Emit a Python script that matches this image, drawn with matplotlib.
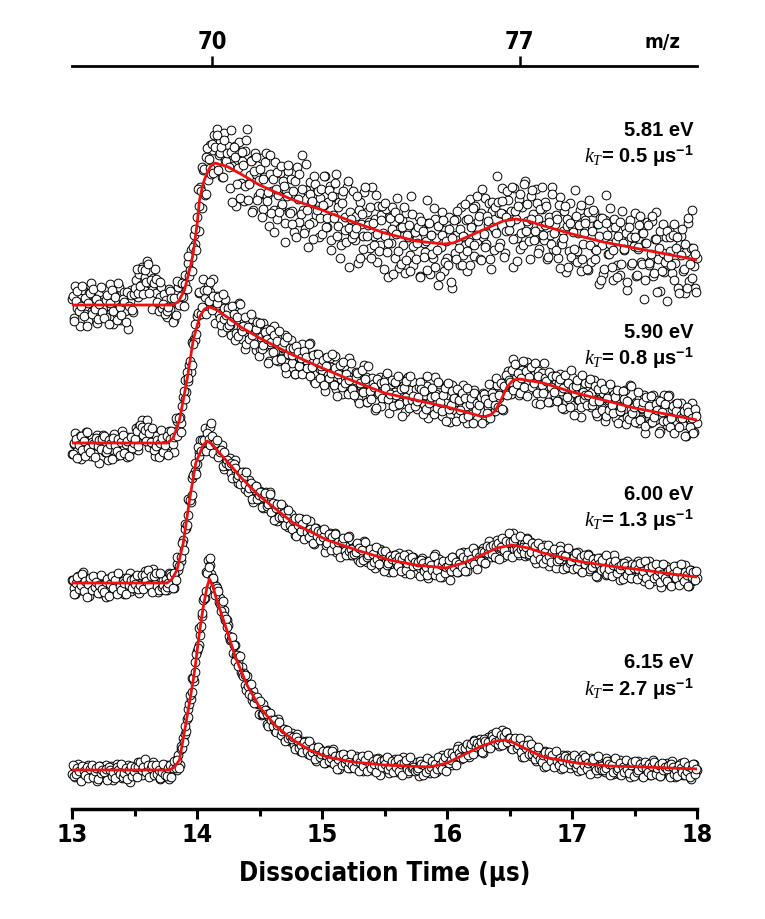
import numpy as np
import matplotlib.pyplot as plt
from matplotlib import font_manager
from matplotlib.font_manager import FontProperties

plt.rcParams['font.family'] = ['Liberation Sans', 'DejaVu Sans']
plt.rcParams['mathtext.fontset'] = 'custom'
plt.rcParams['mathtext.it'] = 'Liberation Serif:italic'
plt.rcParams['mathtext.rm'] = 'Liberation Sans'
plt.rcParams['mathtext.bf'] = 'Liberation Sans:bold'


def condensed_bold():
    # axis text in the original is a narrow bold sans
    for f in font_manager.fontManager.ttflist:
        n = f.name.lower()
        w = f.weight
        bold = (isinstance(w, int) and w >= 600) or w in ('bold', 'demibold', 'semibold', 'heavy')
        narrow = 'narrow' in n or 'condensed' in n or f.stretch in ('condensed', 'semi-condensed')
        if narrow and bold and f.style == 'normal':
            return f.fname
    return None


cond = condensed_bold()


def axis_font(size):
    if cond:
        return FontProperties(fname=cond, size=size)
    return FontProperties(family='Liberation Sans', weight='bold', size=size * 0.86)


# sampled dissociation time (us): two interleaved read-outs, 12.5 ns apart each
t = np.linspace(13, 18, 401)
t_mid = np.linspace(13.00625, 17.99375, 400)

energies = ['5.81 eV', '5.90 eV', '6.00 eV', '6.15 eV']
rates = ['0.5', '0.8', '1.3', '2.7']
offsets = [504, 366, 226, 39]

mz_pos = [14.12, 16.58]
mz_labels = ['70', '77']

# measured signal (arb. units, baseline = 0)
sig_581 = [
    6, -13, 19, -3, 10, -21, 2, 15, -9, 4, -16, 12, 22, -6, -1, 9, -18, 13, 3, -10,
    -4, 16, -12, 7, 21, -2, -19, 10, 3, -9, 18, -15, 0, 13, -6, 9, -24, 4, 15, -7,
    14, 25, 8, 31, 20, 38, 17, 28, 44, 22, 33, 15, 27, 36, 12, 24, 8, 18, -3, 11,
    5, -12, 16, -4, 9, -15, 12, 3, 18, 0, 22, 8, 30, 16, 42, 29, 55, 48, 70, 61,
    88, 74, 118, 97, 135, 110, 148, 125, 160, 131, 155, 170, 138, 176, 150, 163, 128, 172, 145, 158,
    159, 117, 175, 139, 159, 99, 145, 163, 122, 144, 104, 154, 176, 122, 130, 145, 95, 152, 131, 109,
    112, 147, 96, 128, 152, 109, 79, 131, 114, 95, 143, 86, 110, 132, 98, 124, 63, 115, 134, 93,
    126, 94, 73, 111, 138, 83, 112, 150, 95, 76, 115, 58, 123, 102, 83, 129, 90, 115, 68, 107,
    71, 100, 129, 78, 103, 119, 55, 90, 108, 131, 79, 103, 60, 110, 69, 88, 118, 38, 93, 81,
    114, 65, 89, 42, 103, 81, 69, 113, 51, 93, 83, 57, 118, 69, 86, 43, 99, 60, 90, 72,
    69, 96, 28, 88, 62, 98, 83, 47, 107, 37, 77, 85, 60, 32, 92, 68, 50, 109, 40, 72,
    46, 67, 88, 29, 78, 62, 53, 105, 82, 31, 70, 47, 86, 67, 20, 79, 58, 93, 34, 75,
    47, 88, 69, 17, 78, 52, 86, 65, 40, 98, 50, 68, 85, 34, 63, 106, 81, 49, 99, 64,
    84, 46, 92, 68, 107, 61, 80, 102, 36, 94, 55, 74, 129, 92, 62, 117, 91, 52, 74, 105,
    83, 94, 38, 117, 86, 67, 106, 56, 98, 73, 124, 101, 81, 46, 109, 91, 66, 116, 86, 56,
    79, 96, 65, 103, 46, 88, 70, 118, 56, 81, 90, 47, 108, 63, 74, 94, 33, 79, 54, 102,
    79, 46, 115, 54, 72, 95, 34, 61, 85, 77, 35, 105, 43, 79, 93, 56, 81, 21, 87, 60,
    31, 85, 110, 51, 61, 78, 25, 86, 64, 40, 74, 30, 94, 55, 78, 15, 64, 85, 40, 67,
    92, 29, 56, 80, 43, 72, 6, 62, 83, 40, 44, 84, 29, 66, 93, 46, 14, 69, 52, 33,
    68, 4, 75, 54, 32, 81, 42, 68, 17, 61, 69, 34, 12, 53, 82, 24, 57, 95, 39, 17,
    47]
sig_581_mid = [
    9, -16, 4, 14, -6, -1, 19, -11, 7, -21, 2, 12, -9, 16, -4, 6, -14, 1, 18, -7,
    -13, 5, 10, -19, 2, 15, -6, 8, -15, 22, -2, -10, 6, 3, -17, 13, -1, 10, -5, 11,
    17, 36, 12, 19, 36, 11, 35, 23, 41, 12, 25, -4, 22, 26, 3, -6, 23, -3, 1, -9,
    -6, -2, 14, 7, -17, 7, -10, 24, 0, 9, 22, -1, 21, 16, 49, 35, 34, 58, 76, 55,
    116, 99, 114, 138, 136, 111, 157, 146, 137, 161, 132, 158, 170, 135, 152, 158, 128, 165, 144, 152,
    138, 153, 103, 158, 148, 121, 137, 107, 153, 140, 119, 165, 105, 121, 144, 93, 134, 148, 105, 125,
    136, 88, 126, 143, 104, 113, 150, 92, 126, 73, 116, 133, 93, 139, 101, 119, 82, 109, 140, 92,
    81, 114, 124, 68, 106, 131, 91, 116, 72, 141, 95, 81, 111, 104, 66, 121, 95, 114, 87, 116,
    100, 129, 78, 87, 115, 65, 109, 87, 122, 69, 98, 47, 102, 114, 75, 63, 124, 77, 86, 67,
    71, 77, 109, 95, 47, 91, 56, 118, 69, 80, 98, 47, 82, 60, 110, 71, 54, 85, 99, 36,
    102, 53, 62, 87, 76, 31, 93, 71, 54, 87, 41, 78, 98, 45, 70, 80, 34, 91, 59, 73,
    62, 78, 28, 84, 74, 48, 64, 35, 82, 70, 51, 97, 38, 55, 79, 29, 70, 85, 43, 64,
    40, 76, 23, 67, 85, 46, 94, 57, 76, 40, 69, 101, 54, 86, 40, 78, 97, 60, 70, 109,
    89, 45, 116, 71, 58, 89, 84, 46, 103, 78, 98, 72, 103, 58, 92, 104, 48, 88, 114, 75,
    83, 118, 66, 94, 44, 99, 111, 72, 60, 121, 74, 84, 64, 86, 115, 65, 74, 102, 52, 96,
    118, 70, 80, 99, 48, 83, 61, 111, 72, 55, 86, 100, 37, 61, 67, 99, 86, 38, 82, 48,
    73, 56, 89, 43, 80, 100, 46, 72, 82, 36, 93, 60, 74, 95, 46, 55, 81, 69, 25, 87,
    36, 82, 70, 51, 97, 38, 55, 78, 28, 69, 83, 41, 62, 56, 72, 23, 78, 68, 42, 59,
    68, 30, 58, 89, 41, 72, 25, 62, 80, 42, 51, 89, 32, 66, 13, 57, 74, 34, 81, 43,
    74, 48, 68, 40, 70, 25, 57, 68, 12, 50, 76, 36, 61, 17, 87, 41, 27, 57, 51, 13]

sig_590 = [
    -11, -1, 10, -8, 1, 7, -16, -4, 4, 11, -7, 2, -13, 5, -10, -2, 8, -20, 0, -4,
    8, -9, -1, -17, 5, -2, -7, 9, -13, 2, -1, -10, 12, -5, 1, -14, 6, -8, 3, -4,
    4, 15, -7, 17, 9, 23, 17, 3, 23, -4, 9, 10, -1, -13, 7, -2, -8, 13, -11, 0,
    5, -10, 12, 1, 10, -9, 11, 22, 13, 26, 20, 46, 63, 51, 62, 78, 71, 101, 104, 103,
    127, 150, 131, 150, 164, 146, 132, 157, 151, 141, 164, 136, 137, 147, 129, 141, 111, 135, 144, 124,
    135, 118, 108, 125, 137, 110, 124, 140, 115, 104, 122, 94, 124, 114, 104, 124, 106, 117, 93, 112,
    94, 106, 120, 96, 107, 114, 82, 99, 108, 117, 92, 103, 82, 105, 85, 95, 108, 70, 95, 88,
    103, 80, 90, 69, 96, 86, 79, 99, 70, 89, 83, 70, 100, 76, 84, 62, 89, 70, 83, 74,
    73, 85, 52, 80, 68, 85, 76, 59, 87, 54, 72, 75, 64, 49, 77, 66, 56, 85, 51, 66,
    53, 63, 71, 44, 66, 57, 52, 78, 66, 41, 59, 47, 65, 51, 33, 61, 49, 66, 37, 56,
    47, 66, 55, 30, 59, 45, 61, 51, 38, 65, 41, 50, 57, 31, 46, 66, 53, 37, 61, 42,
    54, 34, 56, 44, 61, 39, 48, 57, 25, 52, 33, 42, 66, 49, 33, 59, 46, 27, 36, 51,
    42, 48, 21, 58, 43, 33, 51, 27, 46, 35, 58, 48, 37, 20, 50, 42, 29, 53, 37, 24,
    38, 47, 32, 50, 23, 44, 36, 59, 30, 43, 50, 32, 58, 45, 48, 60, 33, 57, 50, 72,
    62, 49, 84, 56, 65, 77, 48, 62, 73, 68, 49, 81, 52, 68, 76, 57, 69, 40, 72, 58,
    46, 70, 80, 54, 57, 65, 41, 68, 58, 47, 61, 42, 69, 52, 62, 34, 54, 64, 44, 55,
    66, 38, 50, 59, 43, 56, 26, 51, 60, 41, 43, 60, 36, 51, 63, 43, 27, 52, 44, 35,
    50, 22, 53, 43, 34, 55, 37, 49, 25, 45, 48, 32, 23, 40, 53, 26, 41, 58, 33, 23,
    30, 41, 20, 44, 24, 34, 48, 10, 36, 30, 20, 33, 48, 23, 35, 43, 12, 28, 38, 48,
    31, 18, 48, 25, 34, 12, 39, 21, 34, 25, 40, 18, 28, 7, 35, 25, 19, 40, 11, 30,
    20]
sig_590_mid = [
    -11, 0, 4, -15, -2, 7, -7, 2, -13, 11, -5, -9, 1, -1, -14, 5, -3, 3, -6, 4,
    7, -9, -6, 3, -1, -16, 5, -2, -8, 4, -12, 1, 8, -10, -1, 2, -13, 6, -5, 0,
    4, 12, -3, 18, 16, 8, 13, 2, 16, 10, 1, 15, -7, -3, 3, -14, 0, 5, -9, -2,
    7, -12, 4, 12, -1, 6, 25, 7, 25, 11, 37, 52, 44, 71, 65, 82, 78, 99, 119, 109,
    130, 151, 129, 136, 153, 129, 153, 142, 161, 133, 147, 120, 140, 146, 125, 118, 149, 124, 128, 116,
    118, 122, 137, 129, 103, 126, 107, 139, 112, 117, 126, 99, 116, 104, 129, 108, 99, 114, 121, 87,
    120, 94, 98, 111, 104, 80, 113, 101, 91, 108, 83, 102, 112, 84, 96, 101, 76, 106, 89, 95,
    88, 95, 69, 97, 91, 77, 85, 69, 92, 86, 75, 99, 67, 76, 88, 60, 81, 89, 65, 77,
    83, 58, 77, 86, 65, 70, 89, 58, 75, 47, 69, 78, 56, 81, 60, 69, 49, 63, 80, 54,
    48, 66, 70, 40, 60, 73, 51, 64, 41, 77, 52, 44, 59, 56, 35, 64, 50, 60, 45, 61,
    55, 70, 44, 49, 63, 37, 61, 48, 67, 39, 54, 27, 55, 62, 42, 35, 67, 43, 47, 37,
    42, 46, 61, 54, 29, 52, 34, 67, 40, 46, 55, 29, 47, 35, 61, 41, 32, 48, 55, 22,
    60, 34, 38, 52, 45, 22, 54, 43, 33, 50, 25, 45, 55, 27, 39, 45, 20, 50, 33, 40,
    38, 46, 20, 49, 44, 30, 40, 25, 50, 46, 38, 65, 36, 48, 60, 34, 57, 68, 48, 63,
    61, 73, 53, 79, 59, 70, 50, 65, 82, 56, 72, 47, 66, 76, 56, 60, 80, 50, 67, 39,
    58, 50, 65, 62, 41, 71, 56, 67, 51, 67, 42, 60, 64, 35, 55, 68, 46, 60, 36, 73,
    56, 28, 57, 63, 43, 36, 68, 44, 48, 38, 48, 64, 38, 42, 57, 30, 54, 42, 60, 33,
    54, 27, 45, 33, 59, 38, 30, 46, 53, 20, 32, 36, 52, 44, 19, 42, 24, 57, 30, 36,
    21, 40, 51, 23, 35, 41, 17, 46, 30, 37, 47, 21, 26, 39, 33, 10, 42, 31, 22, 39,
    22, 47, 16, 25, 37, 10, 32, 40, 16, 28, 25, 32, 7, 36, 31, 16, 25, 10, 34, 27]

sig_600 = [
    3, -5, -11, 0, 7, -7, 1, 11, -3, -9, 2, -13, 4, -1, -6, 6, -4, 3, -10, 1,
    -3, 4, -14, 3, -4, 6, 2, -8, 8, -10, 1, 3, -3, -11, 5, -1, -6, 10, -8, 0,
    6, -7, 1, -10, 7, 2, 0, 12, -3, 8, 5, -2, 14, 0, 4, -9, 6, -6, 3, -2,
    4, -7, 10, 1, 9, -5, 10, 19, 13, 25, 22, 43, 59, 55, 68, 83, 81, 105, 109, 112,
    119, 131, 143, 133, 143, 155, 133, 144, 156, 160, 137, 143, 129, 141, 128, 131, 138, 114, 126, 121,
    117, 125, 110, 117, 123, 110, 100, 111, 106, 100, 111, 94, 99, 103, 93, 98, 81, 93, 97, 84,
    92, 83, 75, 85, 91, 75, 82, 91, 76, 69, 79, 62, 78, 72, 65, 76, 65, 70, 56, 66,
    69, 55, 61, 48, 63, 56, 53, 64, 47, 57, 53, 46, 62, 48, 52, 39, 55, 43, 51, 46,
    44, 50, 31, 48, 40, 50, 45, 35, 50, 31, 42, 43, 37, 28, 43, 37, 31, 47, 28, 35,
    28, 34, 38, 23, 35, 31, 27, 42, 34, 21, 30, 24, 34, 28, 15, 31, 24, 34, 17, 28,
    20, 30, 25, 11, 26, 19, 28, 21, 14, 30, 16, 20, 24, 10, 19, 29, 22, 12, 26, 16,
    21, 10, 22, 15, 25, 13, 18, 22, 5, 20, 9, 15, 29, 18, 10, 24, 17, 6, 12, 20,
    14, 18, 3, 26, 17, 13, 24, 11, 23, 17, 31, 26, 22, 12, 30, 26, 20, 34, 26, 20,
    26, 32, 24, 35, 20, 33, 28, 42, 26, 33, 37, 26, 43, 32, 35, 42, 26, 39, 32, 45,
    40, 32, 50, 34, 38, 44, 28, 35, 41, 39, 27, 45, 28, 38, 41, 31, 37, 20, 37, 30,
    34, 23, 38, 28, 33, 17, 29, 34, 23, 28, 18, 31, 37, 22, 24, 28, 15, 29, 24, 18,
    20, 30, 16, 24, 31, 20, 12, 24, 20, 16, 29, 12, 19, 25, 16, 22, 6, 20, 25, 13,
    22, 14, 8, 18, 25, 11, 19, 28, 14, 8, 19, 3, 20, 15, 10, 22, 11, 18, 5, 16,
    7, 14, 22, 8, 15, 19, 2, 11, 16, 22, 8, 14, 2, 16, 5, 9, 18, -4, 11, 8,
    17, 4, 11, -2, 14, 8, 5, 17, 0, 11, 8, 2, 18, 5, 9, -3, 13, 2, 11, 6,
    5]
sig_600_mid = [
    3, -11, 0, 6, -6, -2, 9, -8, 2, -14, -1, 5, -7, 7, -4, 1, -10, -2, 8, -6,
    -9, 1, 4, -13, -1, 7, -5, 3, -11, 10, -3, -7, 2, 0, -11, 5, -2, 3, -5, 4,
    -1, 8, -6, -2, 8, -6, 8, 2, 13, -2, 7, -9, 7, 10, -3, -7, 10, -4, -2, -7,
    -4, 0, 9, 7, -5, 10, 3, 26, 17, 26, 40, 33, 54, 58, 84, 83, 88, 108, 120, 109,
    136, 127, 132, 143, 143, 132, 150, 144, 138, 147, 130, 140, 143, 126, 131, 133, 117, 131, 120, 123,
    118, 120, 105, 119, 115, 105, 108, 99, 111, 105, 99, 111, 91, 95, 100, 84, 95, 97, 84, 88,
    91, 76, 86, 90, 77, 79, 89, 71, 80, 63, 75, 79, 66, 79, 66, 70, 58, 65, 73, 58,
    54, 63, 65, 47, 58, 65, 52, 59, 44, 64, 51, 46, 54, 51, 40, 55, 47, 52, 43, 51,
    46, 54, 38, 40, 49, 33, 46, 39, 49, 33, 41, 26, 41, 45, 32, 28, 46, 32, 34, 28,
    29, 31, 40, 35, 21, 33, 23, 41, 26, 28, 34, 18, 29, 21, 36, 24, 19, 28, 32, 12,
    32, 18, 20, 27, 24, 11, 28, 22, 17, 26, 12, 24, 28, 13, 20, 24, 9, 26, 17, 21,
    18, 21, 7, 23, 20, 12, 16, 8, 22, 18, 13, 27, 8, 13, 20, 6, 18, 22, 10, 16,
    17, 23, 12, 26, 16, 21, 11, 19, 30, 16, 26, 12, 24, 31, 19, 24, 35, 19, 30, 14,
    26, 22, 32, 31, 20, 37, 30, 36, 29, 38, 26, 37, 40, 24, 36, 45, 33, 42, 28, 50,
    41, 26, 42, 45, 33, 30, 47, 34, 36, 30, 36, 44, 29, 31, 40, 24, 37, 30, 40, 24,
    36, 20, 31, 24, 38, 27, 21, 31, 34, 15, 22, 24, 33, 28, 14, 27, 16, 35, 20, 22,
    14, 26, 30, 15, 22, 26, 11, 28, 19, 23, 28, 14, 16, 24, 20, 7, 25, 19, 13, 23,
    14, 28, 9, 14, 21, 7, 18, 22, 10, 16, 14, 18, 4, 20, 17, 8, 13, 5, 19, 15,
    18, 4, 14, 20, 8, 12, 22, 5, 15, -1, 11, 17, 5, 19, 7, 12, 1, 9, 19, 5,
    2, 12, 14, -3, 9, 17, 5, 12, -2, 19, 6, 2, 11, 8, -3, 13, 6, 11, 3, 12]

sig_615 = [
    -4, 4, -7, 0, 6, -3, -9, 2, -2, -6, 5, -7, -2, 3, -4, 1, -11, -1, 4, -5,
    -7, -1, 5, -5, 0, 4, -10, -2, 2, 6, -4, 1, -8, 3, -6, -2, 5, -12, 0, -3,
    2, -6, 8, 1, 7, -5, 4, 8, -1, 4, -5, 4, 8, -4, -2, 1, -9, 3, -1, -6,
    -1, 5, -9, 5, -1, 8, 6, 0, 15, 5, 21, 32, 36, 39, 61, 66, 71, 92, 89, 108,
    119, 125, 135, 154, 170, 172, 198, 210, 205, 196, 190, 182, 184, 176, 168, 172, 162, 160, 150, 150,
    145, 130, 131, 117, 125, 115, 109, 114, 98, 103, 97, 85, 94, 81, 81, 70, 79, 68, 72, 66,
    66, 55, 66, 56, 60, 46, 53, 55, 45, 48, 39, 47, 51, 39, 39, 41, 30, 40, 35, 29,
    30, 37, 25, 31, 36, 26, 19, 29, 24, 19, 29, 16, 20, 25, 17, 21, 9, 18, 22, 13,
    19, 12, 7, 14, 20, 8, 14, 21, 10, 6, 13, 1, 15, 10, 6, 15, 8, 12, 2, 10,
    3, 9, 14, 4, 9, 13, -1, 6, 10, 14, 4, 9, 0, 11, 1, 5, 12, -5, 7, 4,
    11, 1, 6, -3, 10, 4, 2, 11, -2, 7, 5, 0, 13, 3, 6, -3, 9, 1, 7, 3,
    2, 8, -6, 7, 1, 9, 6, -2, 11, -3, 6, 8, 4, -2, 11, 7, 3, 15, 2, 9,
    6, 12, 17, 5, 16, 14, 13, 24, 20, 11, 20, 16, 24, 19, 13, 26, 21, 30, 18, 28,
    21, 31, 27, 17, 30, 25, 33, 28, 24, 36, 26, 30, 35, 24, 30, 40, 34, 27, 38, 29,
    31, 22, 31, 25, 31, 22, 25, 28, 13, 25, 16, 19, 30, 21, 14, 24, 18, 9, 13, 18,
    13, 15, 3, 19, 12, 7, 16, 5, 13, 8, 18, 13, 9, 1, 15, 10, 5, 15, 9, 2,
    7, 11, 4, 12, -1, 8, 5, 15, 2, 7, 8, -1, 12, 3, 5, 10, -3, 5, 0, 10,
    5, -2, 12, 0, 4, 9, -4, 2, 6, 4, -4, 10, -3, 5, 8, 0, 6, -7, 7, 1,
    5, -4, 9, 1, 6, -6, 3, 6, -2, 3, -5, 5, 10, -1, 1, 4, -6, 6, 2, -3,
    -1, 7, -4, 3, 9, -1, -7, 4, 0, -4, 7, -5, 0, 5, -2, 3, -9, 1, 6, -3,
    0]
sig_615_mid = [
    5, -6, -4, 2, -1, -11, 4, -1, -5, 3, -8, 1, 5, -7, -1, 2, -9, 4, -3, 0,
    -2, 1, -10, 3, 0, -6, -2, -8, 3, 0, -4, 6, -7, -3, 2, -9, 0, 4, -6, -1,
    3, -7, 3, 8, 0, 3, 11, -2, 5, -7, 2, 5, -5, 5, -4, 0, -8, -2, 6, -5,
    -6, 2, 5, -7, 2, 9, 2, 10, 2, 24, 22, 28, 44, 51, 53, 75, 78, 92, 98, 116,
    122, 142, 144, 157, 172, 179, 197, 203, 212, 192, 192, 175, 182, 179, 166, 159, 169, 154, 151, 143,
    134, 131, 133, 125, 109, 115, 104, 114, 96, 94, 95, 80, 84, 76, 86, 74, 67, 72, 73, 56,
    69, 56, 56, 60, 56, 44, 57, 50, 44, 50, 38, 45, 48, 35, 39, 41, 29, 40, 32, 34,
    31, 33, 21, 33, 29, 22, 25, 18, 28, 24, 19, 29, 15, 18, 22, 11, 19, 23, 13, 16,
    19, 7, 15, 19, 9, 12, 19, 6, 14, 1, 11, 15, 5, 16, 7, 11, 2, 8, 16, 5,
    2, 9, 12, -1, 8, 14, 4, 10, -1, 15, 5, 2, 9, 6, -2, 11, 5, 9, 3, 10,
    6, 13, 1, 4, 9, -2, 8, 3, 11, -1, 6, -5, 7, 10, 1, -1, 13, 2, 3, -1,
    0, 2, 9, 6, -5, 5, -2, 12, 1, 3, 9, -3, 6, 1, 13, 5, 1, 9, 13, -1,
    17, 7, 10, 17, 14, 5, 21, 17, 13, 22, 12, 22, 26, 15, 22, 26, 16, 29, 23, 27,
    24, 28, 18, 31, 29, 23, 28, 22, 34, 31, 28, 38, 26, 30, 35, 25, 34, 38, 28, 32,
    32, 21, 29, 32, 22, 25, 32, 18, 25, 13, 22, 25, 16, 26, 16, 19, 11, 16, 23, 11,
    8, 15, 18, 4, 13, 18, 9, 15, 3, 19, 9, 5, 12, 10, 2, 14, 8, 12, 6, 12,
    8, 15, 3, 6, 11, 0, 10, 5, 13, 1, 7, -4, 8, 11, 2, 0, 14, 2, 4, 0,
    0, 2, 9, 6, -5, 5, -2, 12, 0, 2, 7, -5, 3, -2, 10, 1, -3, 5, 8, -6,
    9, -2, 0, 6, 3, -7, 8, 2, -2, 6, -5, 4, 8, -4, 2, 5, -6, 7, 0, 3,
    1, 4, -7, 6, 3, -4, 0, -6, 5, 2, -2, 8, -5, -1, 4, -7, 2, 6, -4, 1]

# fitted curves (time, signal)
fit_t1 = [13.0, 13.8, 13.85, 13.9, 13.95, 13.97, 14.0, 14.02, 14.05, 14.08, 14.11, 14.14, 14.2,
          14.25, 14.35, 14.5, 14.75, 15.0, 15.25, 15.5, 15.75, 15.97, 16.05, 16.25, 16.45, 16.55,
          16.65, 16.75, 17.0, 17.25, 17.5, 17.75, 18.0]
fit_y1 = [0, 0, 3, 15, 40, 52, 80, 105, 122, 132, 139, 142, 140, 138, 131, 120, 106, 95, 83, 72,
          64, 61, 62, 73, 84, 86, 84, 80, 71, 63, 57, 51, 45]
fit_t2 = [13.0, 13.76, 13.81, 13.86, 13.92, 13.97, 14.02, 14.06, 14.10, 14.16, 14.24, 14.35, 14.5,
          14.75, 15.0, 15.25, 15.5, 15.75, 16.0, 16.15, 16.29, 16.35, 16.39, 16.44, 16.48, 16.53,
          16.58, 16.77, 17.0, 17.25, 17.5, 17.75, 18.0]
fit_y2 = [0, 0, 5, 23, 63, 103, 126, 134, 136, 133, 126, 116, 105, 89, 75, 62, 50, 43, 36, 31, 26,
          28, 33, 45, 56, 63, 64, 60, 51, 43, 35, 29, 23]
fit_t3 = [13.0, 13.76, 13.80, 13.84, 13.89, 13.94, 13.99, 14.05, 14.08, 14.12, 14.18, 14.26, 14.34,
          14.5, 14.64, 14.77, 15.04, 15.3, 15.54, 15.75, 15.99, 16.13, 16.26, 16.4, 16.52, 16.65,
          16.77, 17.04, 17.3, 17.57, 17.8, 18.0]
fit_y3 = [0, 0, 4, 13, 40, 83, 120, 138, 142, 139, 130, 119, 107, 87, 73, 60, 43, 32, 23, 18, 15,
          20, 27, 35, 38, 35, 30, 22, 17, 13, 9, 6]
fit_t4 = [13.0, 13.78, 13.82, 13.86, 13.92, 13.97, 13.99, 14.02, 14.05, 14.08, 14.10, 14.13, 14.15,
          14.19, 14.23, 14.31, 14.4, 14.5, 14.63, 14.77, 14.9, 15.04, 15.25, 15.5, 15.86, 16.0,
          16.13, 16.26, 16.39, 16.46, 16.52, 16.65, 16.77, 17.04, 17.3, 17.57, 18.0]
fit_y4 = [0, 0, 3, 10, 53, 90, 108, 138, 163, 183, 191, 183, 173, 158, 143, 112, 85, 63, 44, 30,
          20, 13, 8, 5, 3, 7, 15, 23, 29, 30, 28, 20, 13, 7, 4, 3, 1]

signals = [(sig_581, sig_581_mid), (sig_590, sig_590_mid), (sig_600, sig_600_mid),
           (sig_615, sig_615_mid)]
fits = [(fit_t1, fit_y1), (fit_t2, fit_y2), (fit_t3, fit_y3), (fit_t4, fit_y4)]
label_y = [679, 477, 315, 146]

fig = plt.figure(figsize=(7.65, 9.19), dpi=100)
ax = fig.add_axes([72 / 765, 1 - 809 / 919, 625 / 765, 743 / 919])

mk = dict(ls='none', marker='o', ms=6.3, mfc='white', mec='black', mew=0.7, clip_on=False)
for (sa, sb), off in zip(signals, offsets):
    ax.plot(t, np.array(sa) + off, **mk)
    ax.plot(t_mid, np.array(sb) + off, **mk)
for (ft, fy), off in zip(fits, offsets):
    ax.plot(ft, np.array(fy) + off, color='#ee1111', lw=2)

for e, k, y in zip(energies, rates, label_y):
    ax.text(17.97, y, e, ha='right', va='center', fontsize=14.5, fontweight='bold')
    ax.text(17.97, y - 26, r'$k_T$= ' + k + r' μs$^{\mathbf{-1}}$', ha='right', va='center',
            fontsize=14.5, fontweight='bold')

ax.set_xlim(13, 18)
ax.set_ylim(0, 743)
ax.set_yticks([])
for s in ['left', 'right', 'top']:
    ax.spines[s].set_visible(False)
ax.spines['bottom'].set_linewidth(2.5)
ax.set_xticks(range(13, 19))
ax.set_xticks(np.arange(13.5, 18, 1), minor=True)
ax.tick_params(axis='x', which='major', direction='out', length=7, width=2.2, pad=3)
ax.tick_params(axis='x', which='minor', direction='out', length=5, width=2.2)
for lab in ax.get_xticklabels():
    lab.set_fontproperties(axis_font(18))
ax.set_xlabel('Dissociation Time (μs)', fontproperties=axis_font(18.5), labelpad=10)

top = ax.secondary_xaxis('top')
top.set_xticks(mz_pos, labels=mz_labels)
for lab in top.get_xticklabels():
    lab.set_fontproperties(axis_font(17))
top.tick_params(direction='out', length=7, width=1.8, pad=1.5)
top.spines['top'].set_linewidth(2)
fig.text(662 / 765, 1 - 42 / 919, 'm/z', ha='center', va='center',
         fontproperties=axis_font(14.5))

fig.savefig('out.png', dpi=100)
